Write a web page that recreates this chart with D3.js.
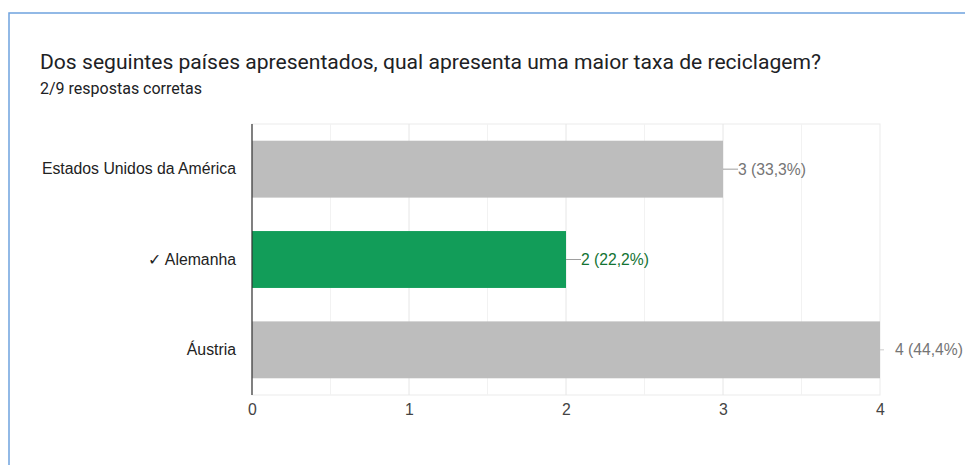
<!DOCTYPE html>
<html>
<head>
<meta charset="utf-8">
<script src="https://cdn.jsdelivr.net/npm/d3@7"></script>
<style>
  html, body { margin: 0; padding: 0; background: #fff; }
  svg { display: block; font-family: Roboto, Arial, sans-serif; }
</style>
</head>
<body>
<svg id="chart" width="965" height="465"></svg>
<script>
// Survey answers: one bar per option, correct option highlighted
const categories = ["Estados Unidos da América", "Alemanha", "Áustria"];
const counts = [3, 2, 4];
const percentLabels = ["33,3%", "22,2%", "44,4%"];
const correct = [false, true, false];
const tickValues = [0, 1, 2, 3, 4];
const title = "Dos seguintes países apresentados, qual apresenta uma maior taxa de reciclagem?";
const subtitle = "2/9 respostas corretas";

const labelFont = "'Liberation Sans', Arial, sans-serif";
const svg = d3.select("#chart");

// Card outline (top and left edges visible)
svg.append("rect")
  .attr("x", 9).attr("y", 13).attr("width", 980).attr("height", 480)
  .attr("fill", "#fff").attr("stroke", "#6fa3de").attr("stroke-width", 1.5);

svg.append("text").attr("x", 40).attr("y", 69)
  .attr("font-size", 21.1).attr("fill", "#202124").text(title);
svg.append("text").attr("x", 40).attr("y", 94)
  .attr("font-size", 16).attr("fill", "#202124").text(subtitle);

const plot = { left: 252, right: 880, top: 124, bottom: 395 };

const x = d3.scaleLinear().domain([0, 4]).range([plot.left, plot.right]);
const y = d3.scaleBand().domain(categories).range([plot.top, plot.bottom]).paddingInner(0.37).paddingOuter(0.185);

// Plot frame and gridlines every half unit
const g = svg.append("g");
g.append("rect")
  .attr("x", plot.left).attr("y", plot.top)
  .attr("width", plot.right - plot.left).attr("height", plot.bottom - plot.top)
  .attr("fill", "none").attr("stroke", "#ebebeb").attr("stroke-width", 1);
g.selectAll("line.grid").data(d3.range(0.5, 4, 0.5)).join("line")
  .attr("class", "grid")
  .attr("x1", d => x(d)).attr("x2", d => x(d))
  .attr("y1", plot.top).attr("y2", plot.bottom)
  .attr("stroke", d => Number.isInteger(d) ? "#e6e6e6" : "#f2f2f2");

// Bars
g.selectAll("rect.bar").data(categories).join("rect")
  .attr("class", "bar")
  .attr("x", x(0))
  .attr("y", d => y(d))
  .attr("width", (d, i) => x(counts[i]) - x(0))
  .attr("height", y.bandwidth())
  .attr("fill", (d, i) => correct[i] ? "#129d59" : "#bdbdbd");

// Value labels with short leader lines
categories.forEach((c, i) => {
  const xe = x(counts[i]);
  const cy = y(c) + y.bandwidth() / 2;
  const col = correct[i] ? "#137333" : "#757575";
  const atEnd = counts[i] === 4;
  g.append("line")
    .attr("x1", xe).attr("x2", xe + (atEnd ? 4 : 15))
    .attr("y1", cy).attr("y2", cy)
    .attr("stroke", atEnd ? "#cccccc" : "#9e9e9e").attr("stroke-width", 1);
  g.append("text")
    .attr("x", xe + 15).attr("y", cy + 5.5)
    .attr("font-size", 15.7).attr("font-family", labelFont).attr("fill", col)
    .text(`${counts[i]} (${percentLabels[i]})`);
});

// Category axis
const yAxis = g.append("g").attr("transform", `translate(${plot.left},0)`)
  .call(d3.axisLeft(y).tickSize(0).tickPadding(16)
    .tickFormat((d, i) => correct[i] ? "✓ " + d : d));
yAxis.select(".domain").remove();
yAxis.selectAll("text").attr("font-size", 15.8).attr("fill", "#222").attr("font-family", labelFont);
g.append("line")
  .attr("x1", plot.left).attr("x2", plot.left)
  .attr("y1", plot.top).attr("y2", plot.bottom)
  .attr("stroke", "#333").attr("stroke-width", 1.2);

// Value axis
const xAxis = g.append("g").attr("transform", `translate(0,${plot.bottom})`)
  .call(d3.axisBottom(x).tickValues(tickValues).tickSize(0).tickPadding(9).tickFormat(d3.format("d")));
xAxis.select(".domain").remove();
xAxis.selectAll("text").attr("font-size", 15.8).attr("fill", "#444").attr("font-family", labelFont);
</script>
</body>
</html>
